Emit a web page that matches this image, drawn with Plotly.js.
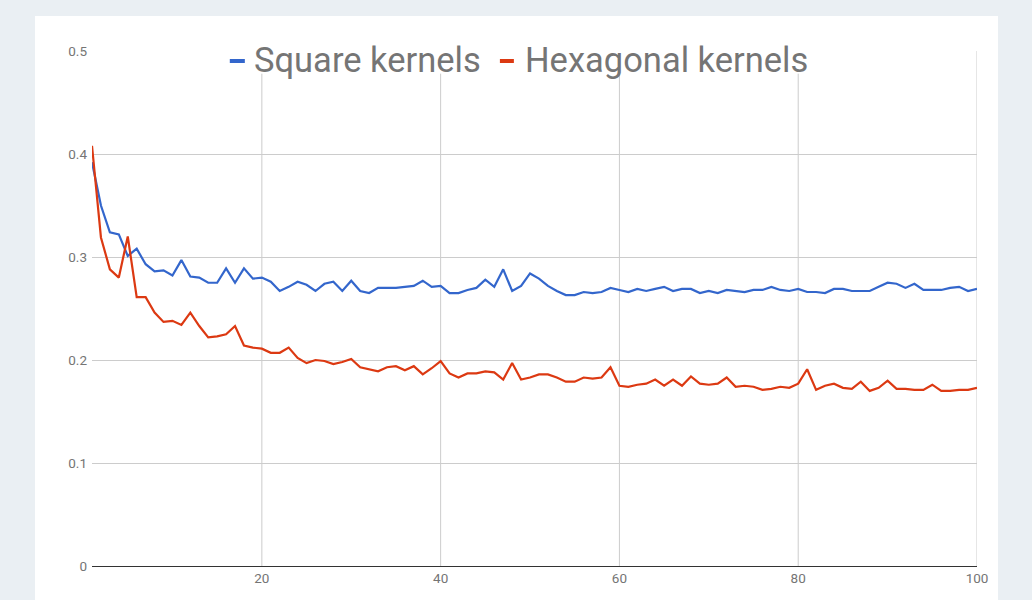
<!DOCTYPE html>
<html>
<head>
<meta charset="utf-8">
<script src="https://cdn.plot.ly/plotly-3.0.1.min.js"></script>
<style>
  html, body { margin:0; padding:0; width:1032px; height:600px; background:#eaeff3; overflow:hidden; }
  #card { position:absolute; left:35px; top:16px; width:963px; height:584px; background:#ffffff; }
  #chart { position:absolute; left:0; top:0; width:1032px; height:600px; }
</style>
</head>
<body>
<div id="card"></div>
<div id="chart"></div>
<script>
const steps = [1,2,3,4,5,6,7,8,9,10,11,12,13,14,15,16,17,18,19,20,
  21,22,23,24,25,26,27,28,29,30,31,32,33,34,35,36,37,38,39,40,
  41,42,43,44,45,46,47,48,49,50,51,52,53,54,55,56,57,58,59,60,
  61,62,63,64,65,66,67,68,69,70,71,72,73,74,75,76,77,78,79,80,
  81,82,83,84,85,86,87,88,89,90,91,92,93,94,95,96,97,98,99,100];

const squareKernels = [
  0.392,0.350,0.324,0.322,0.301,0.308,0.293,0.286,0.287,0.282,
  0.297,0.281,0.280,0.275,0.275,0.289,0.275,0.289,0.279,0.280,
  0.276,0.267,0.271,0.276,0.273,0.267,0.274,0.276,0.267,0.277,
  0.267,0.265,0.270,0.270,0.270,0.271,0.272,0.277,0.271,0.272,
  0.265,0.265,0.268,0.270,0.278,0.271,0.288,0.267,0.272,0.284,
  0.279,0.272,0.267,0.263,0.263,0.266,0.265,0.266,0.270,0.268,
  0.266,0.269,0.267,0.269,0.271,0.267,0.269,0.269,0.265,0.267,
  0.265,0.268,0.267,0.266,0.268,0.268,0.271,0.268,0.267,0.269,
  0.266,0.266,0.265,0.269,0.269,0.267,0.267,0.267,0.271,0.275,
  0.274,0.270,0.274,0.268,0.268,0.268,0.270,0.271,0.267,0.269];

const hexagonalKernels = [
  0.408,0.319,0.288,0.280,0.320,0.261,0.261,0.246,0.237,0.238,
  0.234,0.246,0.233,0.222,0.223,0.225,0.233,0.214,0.212,0.211,
  0.207,0.207,0.212,0.202,0.197,0.200,0.199,0.196,0.198,0.201,
  0.193,0.191,0.189,0.193,0.194,0.190,0.194,0.186,0.192,0.199,
  0.187,0.183,0.187,0.187,0.189,0.188,0.181,0.197,0.181,0.183,
  0.186,0.186,0.183,0.179,0.179,0.183,0.182,0.183,0.193,0.175,
  0.174,0.176,0.177,0.181,0.175,0.181,0.175,0.184,0.177,0.176,
  0.177,0.183,0.174,0.175,0.174,0.171,0.172,0.174,0.173,0.177,
  0.191,0.171,0.175,0.177,0.173,0.172,0.179,0.170,0.173,0.180,
  0.172,0.172,0.171,0.171,0.176,0.170,0.170,0.171,0.171,0.173];

const seriesNames = ["Square kernels", "Hexagonal kernels"];
const seriesColors = ["#3366cc", "#dc3912"];
const xTickVals = [20, 40, 60, 80, 100];
const yTickVals = [0, 0.1, 0.2, 0.3, 0.4, 0.5];
const yTickText = ["0", "0.1", "0.2", "0.3", "0.4", "0.5"];

const traces = [squareKernels, hexagonalKernels].map((vals, i) => ({
  x: steps, y: vals, type: "scatter", mode: "lines", name: seriesNames[i],
  line: { color: seriesColors[i], width: 2.2 }, showlegend: false, hoverinfo: "x+y"
}));

// vertical gridlines (clipped under the legend area like the original)
const shapes = xTickVals.map(v => ({
  type: "line", xref: "x", yref: "y", layer: "below",
  x0: v, x1: v, y0: 0, y1: v === 100 ? 0.5 : 0.478,
  line: { color: "#cccccc", width: 1 }
}));

// legend markers
const legX = [[0.1557, 0.1727], [0.4609, 0.4767]];
legX.forEach((p, i) => shapes.push({
  type: "rect", xref: "paper", yref: "paper",
  x0: p[0], x1: p[1], y0: 0.9767, y1: 0.9845,
  fillcolor: seriesColors[i], line: { width: 0 }
}));

const annotations = [0.1817, 0.488].map((xp, i) => ({
  xref: "paper", yref: "paper", x: xp, y: 0.982,
  xanchor: "left", yanchor: "middle", showarrow: false, borderpad: 0,
  text: seriesNames[i],
  font: { family: "Roboto, sans-serif", size: 34.5, color: "#757575" }
}));

const layout = {
  width: 1032, height: 600,
  paper_bgcolor: "rgba(0,0,0,0)", plot_bgcolor: "rgba(0,0,0,0)",
  margin: { l: 92.2, r: 55, t: 50.7, b: 34.3, pad: 0 },
  font: { family: "Roboto, sans-serif", size: 13.5, color: "#757575" },
  xaxis: {
    range: [1, 100], tickvals: xTickVals, showgrid: false, zeroline: false,
    showline: true, linecolor: "#333333", linewidth: 1, ticks: "",
    tickfont: { family: "Roboto, sans-serif", size: 13.5, color: "#757575" }
  },
  yaxis: {
    range: [0, 0.5], tickvals: yTickVals, ticktext: yTickText,
    showgrid: true, gridcolor: "#cccccc", gridwidth: 1, zeroline: false,
    showline: false, ticks: "", ticklabelstandoff: 4,
    tickfont: { family: "Roboto, sans-serif", size: 13.5, color: "#757575" }
  },
  shapes: shapes,
  annotations: annotations,
  showlegend: false
};

Plotly.newPlot("chart", traces, layout, { displayModeBar: false, staticPlot: true });
</script>
</body>
</html>
